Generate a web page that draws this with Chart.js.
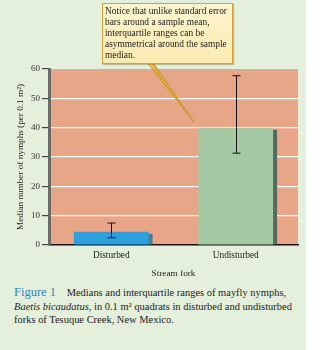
<!DOCTYPE html>
<html>
<head>
<meta charset="utf-8">
<script src="https://cdn.jsdelivr.net/npm/chart.js@4.4.1/dist/chart.umd.min.js"></script>
<style>
  body { margin: 0; background: #ffffff; }
  #panel { position: relative; width: 306px; height: 350px; background: #e5f0dc; overflow: hidden; }
  #chartBox { position: absolute; left: 0; top: 0; width: 306px; height: 280px; }
  #callout {
    position: absolute; left: 102px; top: 3px; width: 127px; height: 58px;
    background: linear-gradient(#fef6cf, #fbeab0); border: 1.5px solid #d4a03c;
    padding: 1px 0 0 1.5px; box-shadow: 1px 1px 1px rgba(120,90,20,0.35);
  }
  #callout div {
    font: 10px "Liberation Serif", serif; line-height: 11px; color: #222;
    white-space: nowrap; transform-origin: 0 0;
  }
  #caption {
    position: absolute; left: 14px; top: 286px; width: 292px;
    font: 10.5px "Liberation Serif", serif; line-height: 13.5px; color: #222; white-space: nowrap;
  }
  #caption .fig { color: #2c83c6; font-size: 12.5px; margin-right: 8px; }
</style>
</head>
<body>
<div id="panel">
  <div id="chartBox"><canvas id="chart"></canvas></div>
  <div id="callout"><div id="calloutText">Notice that unlike standard error<br>bars around a sample mean,<br>interquartile ranges can be<br>asymmetrical around the sample<br>median.</div></div>
  <div id="caption"><span class="fig">Figure 1</span> Medians and interquartile ranges of mayfly nymphs,<br><span id="capLine2"><i>Baetis bicaudatus,</i> in 0.1 m² quadrats in disturbed and undisturbed</span><br>forks of Tesuque Creek, New Mexico.</div>
</div>
<script>
// Chart data
const categories = ['Disturbed', 'Undisturbed'];
const medians = [4.5, 40];
const lowerQuartile = [2.5, 31.3];
const upperQuartile = [7.5, 57.7];
const yTicks = [0, 10, 20, 30, 40, 50, 60];
const xTitle = 'Stream fork';
const yTitle = 'Median number of nymphs (per 0.1 m²)';

const barColors = ['#2d9fda', '#a4c9a3'];
const shadowColors = ['#52778f', '#55695c'];
const family = '"Liberation Serif", serif';

// font size that makes a text run a given width
const measureCtx = document.createElement('canvas').getContext('2d');
function fitSize(text, width) {
  measureCtx.font = '10px ' + family;
  return 10 * width / measureCtx.measureText(text).width;
}

// Match the callout and caption text widths to the reference
measureCtx.font = '10px ' + family;
const calloutScale = Math.min(
  127 / measureCtx.measureText('asymmetrical around the sample').width,
  122 / measureCtx.measureText('Notice that unlike standard error').width
);
document.getElementById('calloutText').style.transform = 'scaleX(' + calloutScale + ')';
const capW = document.getElementById('capLine2').getBoundingClientRect().width;
document.getElementById('caption').style.fontSize = (10.5 * 278 / capW) + 'px';

const tickFont = { family: family, size: fitSize('Undisturbed', 46) };
const xTitleFont = { family: family, size: fitSize(xTitle, 44) };
const yTitleFont = { family: family, size: fitSize(yTitle, 146) };
const yTickFont = { family: family, size: 9 };

// Plot background
const plotBackground = {
  id: 'plotBackground',
  beforeDraw(chart) {
    const { ctx, chartArea: a } = chart;
    ctx.save();
    ctx.fillStyle = '#e8a689';
    ctx.fillRect(a.left, a.top, a.right - a.left, a.bottom - a.top);
    ctx.restore();
  }
};

// Dark edge to the right of each bar
const barShadow = {
  id: 'barShadow',
  beforeDatasetsDraw(chart) {
    const { ctx } = chart;
    const meta = chart.getDatasetMeta(0);
    ctx.save();
    meta.data.forEach((bar, i) => {
      const right = bar.x + bar.width / 2;
      ctx.fillStyle = shadowColors[i];
      ctx.fillRect(right - 1, bar.y + 2, 5, bar.base - bar.y - 2);
    });
    ctx.restore();
  }
};

// Interquartile range whiskers
const errorBars = {
  id: 'errorBars',
  afterDatasetsDraw(chart) {
    const { ctx, scales: { y } } = chart;
    const meta = chart.getDatasetMeta(0);
    ctx.save();
    ctx.strokeStyle = '#111';
    ctx.lineWidth = 1;
    meta.data.forEach((bar, i) => {
      const x = Math.round(bar.x) + 0.5;
      const top = y.getPixelForValue(upperQuartile[i]);
      const bottom = y.getPixelForValue(lowerQuartile[i]);
      ctx.beginPath();
      ctx.moveTo(x, top); ctx.lineTo(x, bottom);
      ctx.moveTo(x - 4, top); ctx.lineTo(x + 4, top);
      ctx.moveTo(x - 4, bottom); ctx.lineTo(x + 4, bottom);
      ctx.stroke();
    });
    ctx.restore();
  }
};

// Pointer from the callout to the undisturbed bar
const calloutPointer = {
  id: 'calloutPointer',
  afterDraw(chart) {
    const { ctx, scales: { y } } = chart;
    const bar = chart.getDatasetMeta(0).data[1];
    const tipX = bar.x - bar.width / 2 - 4;
    const tipY = y.getPixelForValue(medians[1]) - 5;
    ctx.save();
    const g = ctx.createLinearGradient(146, 0, 156, 0);
    g.addColorStop(0, '#fbe9a0');
    g.addColorStop(1, '#d9a83c');
    ctx.fillStyle = g;
    ctx.strokeStyle = '#c9952c';
    ctx.lineWidth = 1;
    ctx.beginPath();
    ctx.moveTo(146, 61);
    ctx.lineTo(tipX, tipY);
    ctx.lineTo(152, 61);
    ctx.closePath();
    ctx.fill();
    ctx.stroke();
    ctx.restore();
  }
};

new Chart(document.getElementById('chart'), {
  type: 'bar',
  data: {
    labels: categories,
    datasets: [{
      data: medians,
      backgroundColor: barColors,
      borderWidth: 0,
      barPercentage: 0.6,
      categoryPercentage: 1
    }]
  },
  options: {
    responsive: true,
    maintainAspectRatio: false,
    animation: false,
    layout: { padding: { top: 69, right: 8, left: 0, bottom: 0 } },
    plugins: { legend: { display: false }, tooltip: { enabled: false } },
    scales: {
      x: {
        grid: { display: false, drawTicks: false },
        border: { display: true, color: '#111', width: 1.5 },
        ticks: { color: '#222', font: tickFont, padding: 5 },
        title: { display: true, text: xTitle, color: '#222', font: xTitleFont, padding: { top: 0, bottom: 1 } },
        afterFit: (s) => { s.height = 35; }
      },
      y: {
        min: 0,
        max: 60,
        afterBuildTicks: (s) => { s.ticks = yTicks.map(v => ({ value: v })); },
        grid: {
          color: (c) => (c.tick && (c.tick.value === 0 || c.tick.value === 60)) ? 'rgba(0,0,0,0)' : '#ffffff',
          tickColor: '#444',
          tickLength: 7,
          lineWidth: 1.2
        },
        border: { color: '#6a6a6a', width: 3 },
        ticks: { color: '#333', font: yTickFont, padding: 2 },
        title: { display: true, text: yTitle, color: '#222', font: yTitleFont, padding: { top: 15, bottom: 0 } },
        afterFit: (s) => { s.width = 49; }
      }
    }
  },
  plugins: [plotBackground, barShadow, errorBars, calloutPointer]
});
</script>
</body>
</html>
